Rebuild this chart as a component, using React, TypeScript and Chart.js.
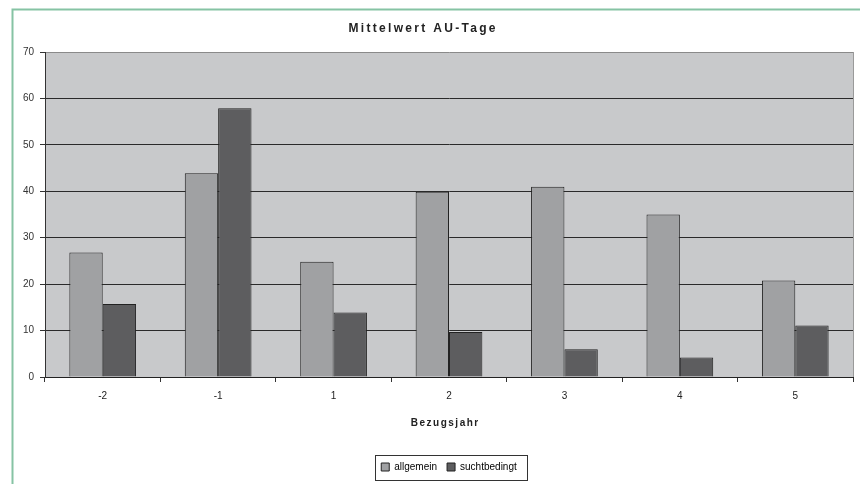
import React, { useEffect, useRef } from 'react';
import { Chart, registerables } from 'chart.js';

Chart.register(...registerables);

const categories = ['-2', '-1', '1', '2', '3', '4', '5'];
const allgemein = [26.8, 43.9, 24.8, 39.9, 41.0, 35.0, 20.8];
const suchtbedingt = [15.7, 57.9, 13.9, 9.7, 6.0, 4.2, 11.1];
const yTickValues = [0, 10, 20, 30, 40, 50, 60, 70];
const seriesNames = ['allgemein', 'suchtbedingt'];
const chartTitle = 'Mittelwert AU-Tage';
const xAxisTitle = 'Bezugsjahr';

const FONT = "'Liberation Sans', Arial, sans-serif";

const decorPlugin = {
  id: 'decor',
  afterLayout(chart: any) {
    const lg = chart.legend;
    const a = chart.chartArea;
    if (lg && a) {
      const shift = (a.left + a.right) / 2 - (lg.left + lg.right) / 2;
      lg.left += shift;
      lg.right += shift;
    }
  },
  beforeDraw(chart: any) {
    const { ctx, chartArea: a } = chart;
    ctx.save();
    ctx.fillStyle = '#ffffff';
    ctx.fillRect(0, 0, chart.width, chart.height);
    // green frame
    ctx.strokeStyle = '#86c3a4';
    ctx.lineWidth = 2;
    ctx.beginPath();
    ctx.moveTo(12.5, chart.height + 2);
    ctx.lineTo(12.5, 9.5);
    ctx.lineTo(chart.width + 2, 9.5);
    ctx.stroke();
    // plot background
    ctx.fillStyle = '#c8c9cb';
    ctx.fillRect(a.left, a.top, a.right - a.left, a.bottom - a.top);
    ctx.restore();
  },
  afterDraw(chart: any) {
    const { ctx, chartArea: a } = chart;
    ctx.save();
    // right border of plot
    ctx.strokeStyle = '#9a9a9a';
    ctx.lineWidth = 1;
    ctx.beginPath();
    ctx.moveTo(Math.round(a.right) + 0.5, a.top);
    ctx.lineTo(Math.round(a.right) + 0.5, a.bottom);
    ctx.stroke();

    // title
    ctx.fillStyle = '#222';
    ctx.font = `bold 12px ${FONT}`;
    (ctx as any).letterSpacing = '2.3px';
    ctx.textAlign = 'left';
    ctx.textBaseline = 'alphabetic';
    const tw = ctx.measureText(chartTitle).width - 2.3;
    ctx.fillText(chartTitle, 422 - tw / 2, 31.5);

    // x axis title
    ctx.font = `bold 10px ${FONT}`;
    (ctx as any).letterSpacing = '1.5px';
    const xw = ctx.measureText(xAxisTitle).width - 1.5;
    ctx.fillText(xAxisTitle, (a.left + a.right) / 2 - 4.5 - xw / 2, 425.5);
    (ctx as any).letterSpacing = '0px';

    // legend box
    const lg = chart.legend;
    if (lg && lg.legendHitBoxes && lg.legendHitBoxes.length) {
      const hb = lg.legendHitBoxes;
      const first = hb[0];
      const last = hb[hb.length - 1];
      const left = first.left - 6;
      const right = last.left + last.width + 10;
      const cy = first.top + first.height / 2;
      ctx.strokeStyle = '#333';
      ctx.lineWidth = 1;
      ctx.strokeRect(Math.round(left) + 0.5, Math.round(cy - 12) + 0.5, Math.round(right - left), 25);
    }
    ctx.restore();
  },
};

export default function App() {
  const ref = useRef<HTMLCanvasElement | null>(null);

  useEffect(() => {
    if (!ref.current) return;
    const chart = new Chart(ref.current, {
      type: 'bar',
      data: {
        labels: categories,
        datasets: [
          {
            label: seriesNames[0],
            data: allgemein,
            backgroundColor: '#a0a1a3',
            borderColor: '#222222',
            borderWidth: 1,
          },
          {
            label: seriesNames[1],
            data: suchtbedingt,
            backgroundColor: '#5d5d5f',
            borderColor: '#222222',
            borderWidth: 1,
          },
        ],
      },
      options: {
        responsive: false,
        animation: false,
        devicePixelRatio: 1,
        layout: { padding: { top: 52, right: 7, left: 0, bottom: 2 } },
        datasets: {
          bar: { categoryPercentage: 0.578, barPercentage: 1 },
        },
        plugins: {
          title: { display: false },
          tooltip: { enabled: false },
          legend: {
            display: true,
            position: 'bottom',
            labels: {
              boxWidth: 8,
              boxHeight: 8,
              padding: 10,
              color: '#000',
              font: { family: FONT, size: 10 },
            },
          },
        },
        scales: {
          x: {
            grid: {
              offset: true,
              drawOnChartArea: false,
              drawTicks: true,
              tickLength: 5,
              color: '#333',
            },
            border: { display: true, color: '#222', width: 1 },
            ticks: {
              color: '#222',
              padding: 8,
              font: { family: FONT, size: 10 },
            },
            afterFit(s: any) {
              const lh = s.chart.legend ? s.chart.legend.height : 0;
              s.height = 484 - 377 - 2 - lh;
            },
          },
          y: {
            min: 0,
            max: 70,
            afterBuildTicks(s: any) {
              s.ticks = yTickValues.map((v) => ({ value: v }));
            },
            grid: {
              color: (c: any) => (c.tick && c.tick.value === 70 ? '#8a8a8a' : '#2a2a2a'),
              drawTicks: true,
              tickLength: 5,
              tickColor: '#333',
            },
            border: { display: true, color: '#333', width: 1 },
            ticks: {
              color: '#333',
              padding: 6,
              font: { family: FONT, size: 10 },
            },
            afterFit(s: any) {
              s.width = 45;
            },
          },
        },
      },
      plugins: [decorPlugin],
    });
    return () => chart.destroy();
  }, []);

  return (
    <div style={{ position: 'absolute', left: 0, top: 0, width: 860, height: 484 }}>
      <canvas ref={ref} width={860} height={484} style={{ display: 'block' }} />
    </div>
  );
}
